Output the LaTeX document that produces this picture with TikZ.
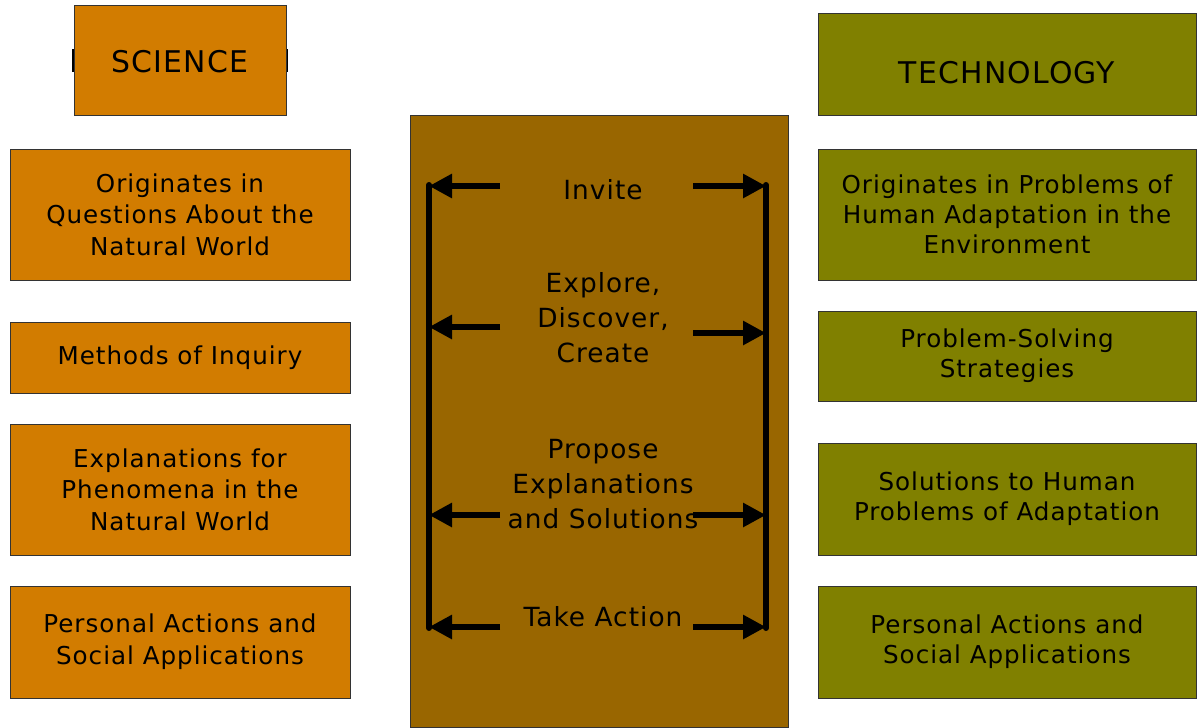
\documentclass[tikz,border=0pt]{standalone}
\usepackage{fontspec}
\setmainfont{DejaVu Sans}[LetterSpace=4]
\usetikzlibrary{arrows.meta}
\definecolor{sciorange}{HTML}{D27C00}
\definecolor{midbrown}{HTML}{996600}
\definecolor{techolive}{HTML}{808000}
\begin{document}
\begin{tikzpicture}[
    sci box/.style={draw=black!80, line width=0.5pt, fill=sciorange, align=center, inner sep=2pt, minimum width=6.8cm, font=\fontsize{14}{18}\selectfont},
    tech box/.style={draw=black!80, line width=0.5pt, fill=techolive, align=center, inner sep=2pt, minimum width=7.56cm, font=\fontsize{14}{17}\selectfont},
    head text/.style={font=\fontsize{17}{20}\selectfont},
    step text/.style={align=center, font=\fontsize{15}{20}\selectfont},
    bar line/.style={line width=3.4pt, line cap=round},
    bar arrow/.style={line width=3.4pt, -{Triangle[length=0.46cm,width=0.46cm]}},
    ]
\useasboundingbox (0,0) rectangle (23.96,-14.54);
% science column
\fill[black] (1.44,-0.98) rectangle (5.76,-1.44);
\node[sci box, head text, minimum width=4.24cm, minimum height=2.2cm] (science) at (3.6,-1.2) {\raisebox{-0.25cm}[0pt][0pt]{SCIENCE}};
\node[sci box, minimum height=2.62cm] (sci1) at (3.6,-4.29) {Originates in\\Questions About the\\Natural World};
\node[sci box, minimum height=1.42cm] (sci2) at (3.6,-7.15) {Methods of Inquiry};
\node[sci box, minimum height=2.62cm] (sci3) at (3.6,-9.79) {Explanations for\\Phenomena in the\\Natural World};
\node[sci box, minimum height=2.24cm] (sci4) at (3.6,-12.84) {Personal Actions and\\Social Applications};
% technology column
\node[tech box, head text, minimum height=2.04cm] (technology) at (20.14,-1.28) {\raisebox{-0.38cm}[0pt][0pt]{TECHNOLOGY}};
\node[tech box, minimum height=2.62cm] (tech1) at (20.14,-4.29) {Originates in Problems of\\Human Adaptation in the\\Environment};
\node[tech box, minimum height=1.8cm] (tech2) at (20.14,-7.12) {Problem-Solving\\Strategies};
\node[tech box, minimum height=2.24cm] (tech3) at (20.14,-9.98) {Solutions to Human\\Problems of Adaptation};
\node[tech box, minimum height=2.24cm] (tech4) at (20.14,-12.84) {Personal Actions and\\Social Applications};
% middle panel
\node[draw=black!80, line width=0.5pt, fill=midbrown, minimum width=7.56cm, minimum height=12.24cm, inner sep=0pt] (middle) at (11.98,-8.42) {};
\node[step text] (invite) at (12.06,-3.8) {Invite};
\node[step text] (explore) at (12.06,-6.36) {Explore,\\Discover,\\Create};
\node[step text] (propose) at (12.06,-9.68) {Propose\\Explanations\\and Solutions};
\node[step text] (action) at (12.06,-12.34) {Take Action};
\coordinate (lt) at (8.58,-3.7);
\coordinate (lb) at (8.58,-12.56);
\coordinate (rt) at (15.32,-3.7);
\coordinate (rb) at (15.32,-12.56);
\draw[bar line] (lt) -- (lb);
\draw[bar line] (rt) -- (rb);
\coordinate (l1) at (10.0,-3.72);
\coordinate (l2) at (10.0,-6.54);
\coordinate (l3) at (10.0,-10.3);
\coordinate (l4) at (10.0,-12.54);
\coordinate (r1) at (13.86,-3.72);
\coordinate (r2) at (13.86,-6.66);
\coordinate (r3) at (13.86,-10.3);
\coordinate (r4) at (13.86,-12.54);
\foreach \i in {1,...,4} {
  \draw[bar arrow] (l\i) -- (l\i -| lt);
  \draw[bar arrow] (r\i) -- (r\i -| rt);
}
\end{tikzpicture}
\end{document}
